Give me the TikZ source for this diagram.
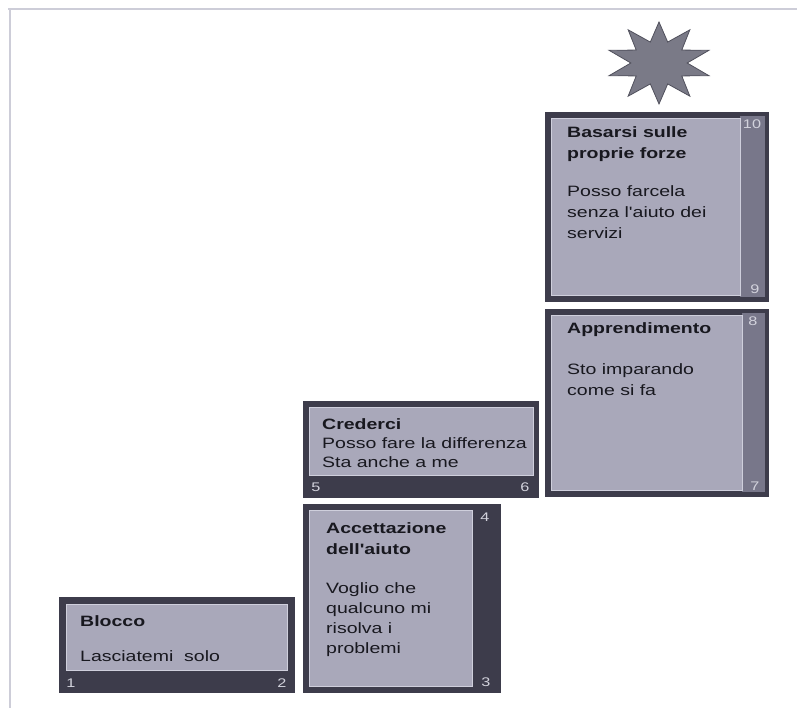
\documentclass[tikz,border=0pt]{standalone}
\usepackage{fontspec}
\newfontfamily\lbl[FakeStretch=1.3]{Liberation Sans}
\definecolor{frameln}{HTML}{CDCDD8}
\definecolor{darkbox}{HTML}{3D3C4B}
\definecolor{midbar}{HTML}{78778A}
\definecolor{panel}{HTML}{A9A8BA}
\definecolor{panelln}{HTML}{CFCFDC}
\definecolor{ink}{HTML}{18181F}
\definecolor{numc}{HTML}{D2D2DC}
\definecolor{starfill}{HTML}{7A7A87}
\definecolor{starln}{HTML}{50505C}
\tikzset{
  outerbox/.style={fill=darkbox, draw=darkbox, line width=0.8pt},
  sidebar/.style={fill=midbar},
  panelbox/.style={fill=panel, draw=panelln, line width=0.9pt},
  ttl/.style={anchor=base west, inner sep=0pt, text=ink, font=\lbl\fontsize{15}{18}\selectfont\bfseries},
  body/.style={anchor=base west, inner sep=0pt, text=ink, font=\lbl\fontsize{15}{18}\selectfont},
  num/.style={inner sep=0pt, text=numc, font=\lbl\fontsize{12.5}{13}\selectfont}
}
\begin{document}
\begin{tikzpicture}[x=1pt,y=-1pt]
\useasboundingbox (0,0) rectangle (797,708);
% frame lines
\draw[frameln, line width=1.5pt] (8,9) -- (797,9);
\draw[frameln, line width=1.5pt] (10,9) -- (10,708);

% star
\begin{scope}[shift={(659,63)}, xscale=1.28]
\filldraw[fill=starfill, draw=starln, line width=0.8pt] (90:41)
  \foreach \a in {0,36,...,324} { -- ({108+\a}:22) -- ({126+\a}:41) } -- cycle;
\end{scope}

% Box 1: Blocco
\draw[outerbox] (59,597) rectangle (294,692);
\draw[panelbox] (66,604) rectangle (287,670);
\node[ttl] (b1t) at (80,626) {Blocco};
\node[body] (b1b) at (80,661) {Lasciatemi\ \ solo};
\node[num] (n1) at (71,683) {1};
\node[num] (n2) at (282,683) {2};

% Box 2: Accettazione
\draw[outerbox] (303,504) rectangle (500,692);
\draw[panelbox] (309,510) rectangle (472,686);
\node[ttl] (b2t1) at (326,533) {Accettazione};
\node[ttl] (b2t2) at (326,554) {dell'aiuto};
\node[body] (b2b1) at (326,593) {Voglio che};
\node[body] (b2b2) at (326,613) {qualcuno mi};
\node[body] (b2b3) at (326,633) {risolva i};
\node[body] (b2b4) at (326,653) {problemi};
\node[num] (n4) at (485,517) {4};
\node[num] (n3) at (486,682) {3};

% Box 3: Crederci
\draw[outerbox] (303,401) rectangle (538,497);
\draw[panelbox] (309,407) rectangle (533,475);
\node[ttl] (b3t) at (322,429) {Crederci};
\node[body] (b3b1) at (322,448) {Posso fare la differenza};
\node[body] (b3b2) at (322,467) {Sta anche a me};
\node[num] (n5) at (316,487) {5};
\node[num] (n6) at (525,487) {6};

% Box 4: Apprendimento
\draw[outerbox] (545,309) rectangle (768,496);
\fill[sidebar] (742,313) rectangle (765,492);
\draw[panelbox] (551,315) rectangle (742,490);
\node[ttl] (b4t) at (567,334) {Apprendimento};
\node[body] (b4b1) at (567,374) {Sto imparando};
\node[body] (b4b2) at (567,395) {come si fa};
\node[num] (n8) at (753,321) {8};
\node[num] (n7) at (755,486) {7};

% Box 5: Basarsi sulle proprie forze
\draw[outerbox] (545,112) rectangle (768,301);
\fill[sidebar] (740,116) rectangle (765,297);
\draw[panelbox] (551,118) rectangle (740,295);
\node[ttl] (b5t1) at (567,138) {Basarsi sulle};
\node[ttl] (b5t2) at (567,159) {proprie forze};
\node[body] (b5b1) at (567,197) {Posso farcela};
\node[body] (b5b2) at (567,218) {senza l'aiuto dei};
\node[body] (b5b3) at (567,239) {servizi};
\node[num] (n10) at (752,124) {10};
\node[num] (n9) at (755,289) {9};
\end{tikzpicture}
\end{document}
